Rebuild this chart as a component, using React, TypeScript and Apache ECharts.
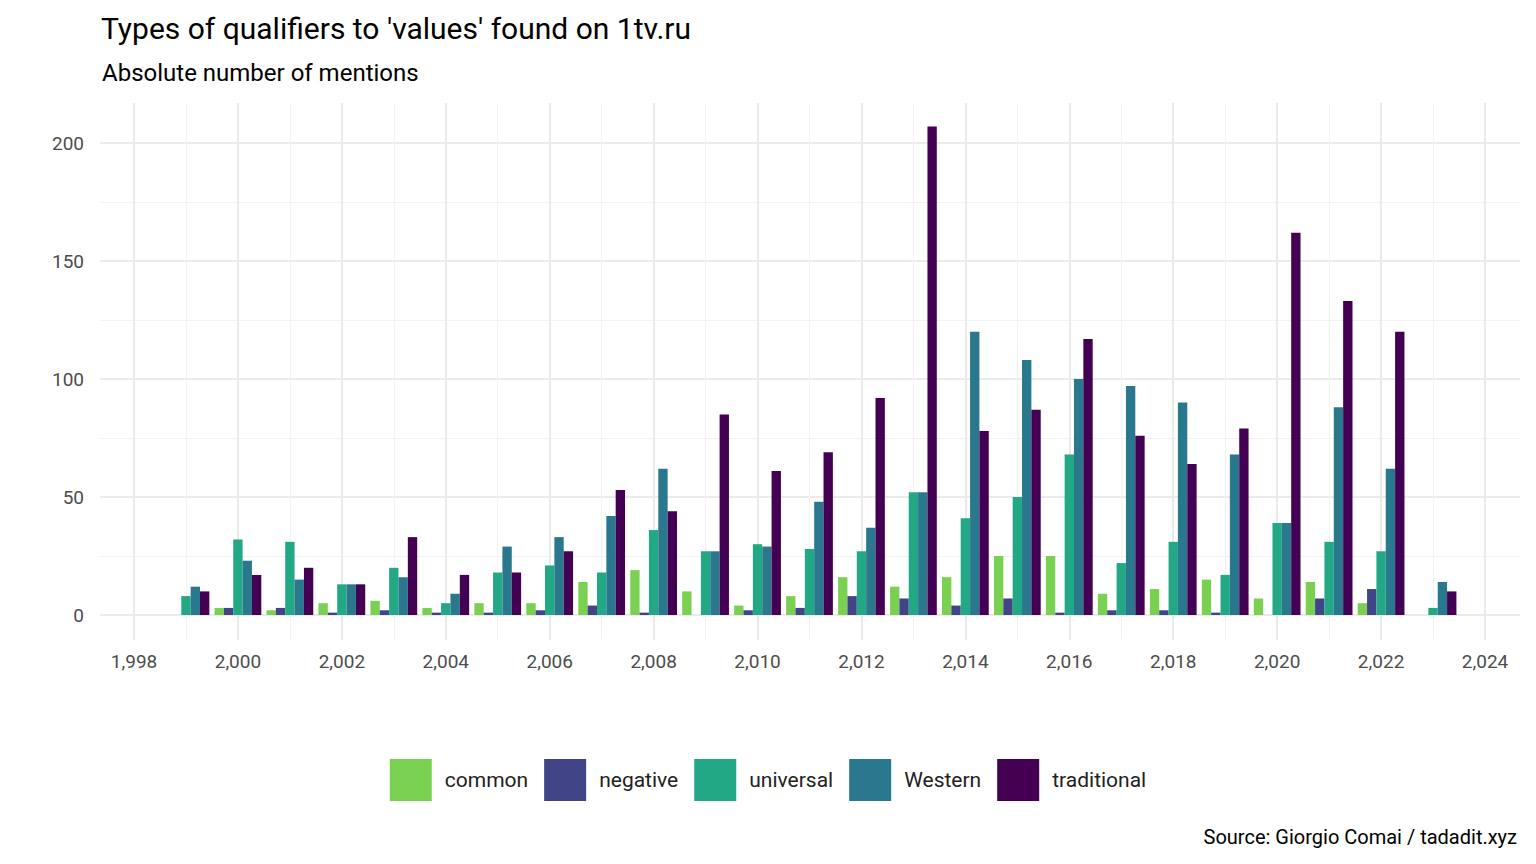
import { useEffect, useRef } from 'react'
import * as echarts from 'echarts'

const years = [1999, 2000, 2001, 2002, 2003, 2004, 2005, 2006, 2007, 2008, 2009, 2010, 2011, 2012, 2013, 2014, 2015, 2016, 2017, 2018, 2019, 2020, 2021, 2022, 2023]
const seriesNames = ['common', 'negative', 'universal', 'Western', 'traditional']
const colors = ['#7AD151', '#414487', '#22A884', '#2A788E', '#440154']

const common = [null, 3, 2, 5, 6, 3, 5, 5, 14, 19, 10, 4, 8, 16, 12, 16, 25, 25, 9, 11, 15, 7, 14, 5, null]
const negative = [null, 3, 3, 1, 2, 1, 1, 2, 4, 1, null, 2, 3, 8, 7, 4, 7, 1, 2, 2, 1, null, 7, 11, null]
const universal = [8, 32, 31, 13, 20, 5, 18, 21, 18, 36, 27, 30, 28, 27, 52, 41, 50, 68, 22, 31, 17, 39, 31, 27, 3]
const western = [12, 23, 15, 13, 16, 9, 29, 33, 42, 62, 27, 29, 48, 37, 52, 120, 108, 100, 97, 90, 68, 39, 88, 62, 14]
const traditional = [10, 17, 20, 13, 33, 17, 18, 27, 53, 44, 85, 61, 69, 92, 207, 78, 87, 117, 76, 64, 79, 162, 133, 120, 10]

const allValues = [common, negative, universal, western, traditional]
const barWidth = 0.18
const font = 'Roboto'

export default function App() {
  const chartRef = useRef<HTMLDivElement>(null)

  useEffect(() => {
    if (!chartRef.current) return
    const chart = echarts.init(chartRef.current, null, { renderer: 'svg' })

    const series: any[] = allValues.map((vals, si) => ({
      name: seriesNames[si],
      type: 'custom',
      xAxisIndex: 2,
      yAxisIndex: 2,
      itemStyle: { color: colors[si] },
      data: years.map((y, i) => [y, vals[i]]).filter((d) => d[1] !== null),
      renderItem: (params: any, api: any) => {
        const x = api.value(0) + (si - 2) * barWidth
        const top = api.coord([x, api.value(1)])
        const base = api.coord([x, 0])
        const w = api.size([barWidth, 0])[0]
        return {
          type: 'rect',
          shape: { x: top[0] - w / 2, y: top[1], width: w, height: base[1] - top[1] },
          style: { fill: colors[si] },
        }
      },
    }))

    const option: any = {
      animation: false,
      backgroundColor: '#fff',
      textStyle: { fontFamily: font },
      title: [
        { text: "Types of qualifiers to 'values' found on 1tv.ru", left: 96, top: 8, textStyle: { fontFamily: font, fontSize: 30, fontWeight: 'normal', color: '#000' } },
        { text: 'Absolute number of mentions', left: 97, top: 56, textStyle: { fontFamily: font, fontSize: 24, fontWeight: 'normal', color: '#000' } },
        { text: 'Source: Giorgio Comai / tadadit.xyz', right: 14, top: 822, textStyle: { fontFamily: font, fontSize: 20, fontWeight: 'normal', color: '#000' } },
      ],
      legend: {
        data: seriesNames.map((n) => ({ name: n, icon: 'rect' })),
        top: 754,
        left: 'center',
        itemWidth: 42,
        itemHeight: 42,
        itemGap: 16,
        textStyle: { fontFamily: font, fontSize: 21, color: '#222', padding: [0, 0, 0, 8] },
      },
      grid: [
        { left: 134, right: 51, top: 103, bottom: 224 },
        { left: 100, right: 16, top: 143, bottom: 249 },
        { left: 134, right: 51, top: 143, bottom: 249 },
      ],
      xAxis: [
        {
          type: 'value', gridIndex: 0, min: 1998, max: 2024, interval: 2,
          axisLine: { show: false }, axisTick: { show: false },
          axisLabel: { color: '#4d4d4d', fontSize: 19, fontFamily: font, margin: 12 },
          splitLine: { lineStyle: { color: '#ebebeb', width: 2 } },
          minorTick: { show: false, splitNumber: 2 },
          minorSplitLine: { show: true, lineStyle: { color: '#f3f3f3', width: 1 } },
        },
        { type: 'value', gridIndex: 1, min: 0, max: 1, show: false },
        { type: 'value', gridIndex: 2, min: 1998, max: 2024, show: false },
      ],
      yAxis: [
        { type: 'value', gridIndex: 0, min: 0, max: 1, show: false },
        {
          type: 'value', gridIndex: 1, min: 0, max: 200, interval: 50,
          axisLine: { show: false }, axisTick: { show: false },
          axisLabel: { color: '#4d4d4d', fontSize: 19, fontFamily: font, margin: 16 },
          splitLine: { lineStyle: { color: '#ebebeb', width: 2 } },
          minorTick: { show: false, splitNumber: 2 },
          minorSplitLine: { show: true, lineStyle: { color: '#f3f3f3', width: 1 } },
        },
        { type: 'value', gridIndex: 2, min: 0, max: 200, show: false },
      ],
      series,
    }

    chart.setOption(option)
    return () => {
      chart.dispose()
    }
  }, [])

  return <div ref={chartRef} style={{ position: 'fixed', left: 0, top: 0, width: 1536, height: 864 }} />
}
